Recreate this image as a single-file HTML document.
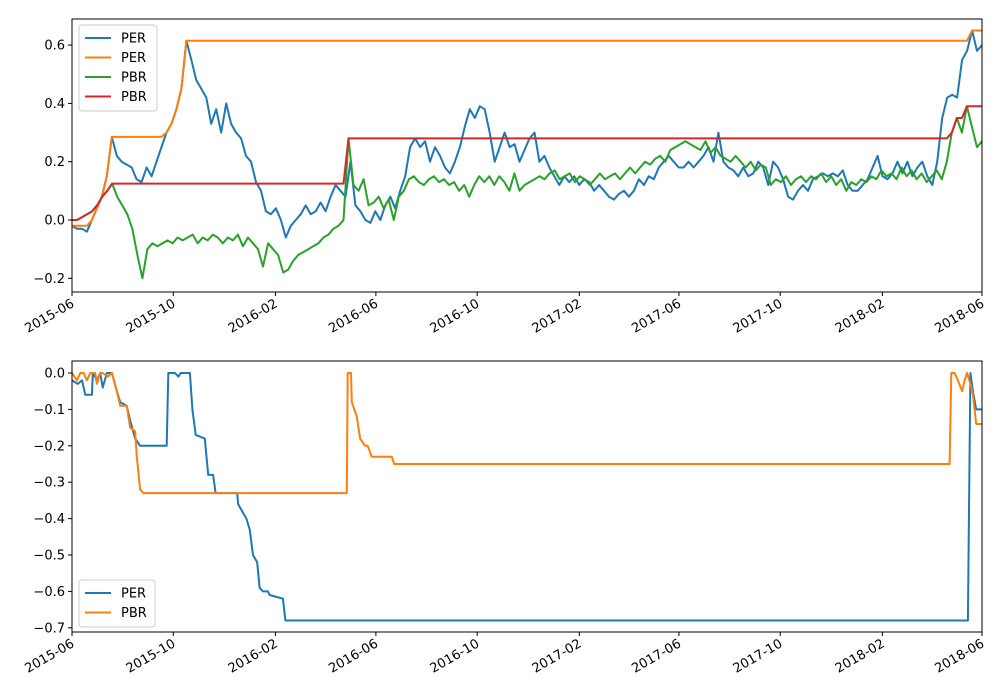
<!DOCTYPE html>
<html><head><meta charset="utf-8"><style>
body{margin:0;background:#fff;}
svg{display:block;font-family:"DejaVu Sans","Liberation Sans",sans-serif;}
</style></head><body>
<svg id="c" width="1000" height="700" viewBox="0 0 1000 700"></svg>
<script>
// ---- data ----
const startDate = "2015-06-01";
const totalDays = 1096;
const tickLabels = ["2015-06","2015-10","2016-02","2016-06","2016-10","2017-02","2017-06","2017-10","2018-02","2018-06"];
const tickDays = [0,122,245,366,488,611,731,853,976,1096];
const topYTicks = [-0.2,0.0,0.2,0.4,0.6];
const botYTicks = [-0.7,-0.6,-0.5,-0.4,-0.3,-0.2,-0.1,0.0];
const perValues = [-0.02,-0.03,-0.03,-0.04,0.0,0.04,0.08,0.15,0.285,0.22,0.2,0.19,0.18,0.14,0.13,0.18,0.15,0.2,0.25,0.3,0.33,0.38,0.45,0.615,0.55,0.48,0.45,0.42,0.33,0.38,0.3,0.4,0.33,0.3,0.28,0.22,0.2,0.13,0.1,0.03,0.02,0.04,0.0,-0.06,-0.02,0.0,0.02,0.05,0.02,0.03,0.06,0.03,0.08,0.12,0.1,0.08,
0.2,0.05,0.03,0.0,-0.01,0.03,0.0,0.05,0.08,0.04,0.1,0.15,0.25,0.28,0.25,0.27,0.2,0.25,0.22,0.18,0.16,0.2,0.25,0.32,0.38,0.35,0.39,0.38,0.3,0.2,0.25,0.3,0.25,0.26,0.2,0.24,0.28,0.3,0.2,0.22,0.18,0.15,0.12,0.15,0.13,0.15,0.12,0.14,0.13,0.1,0.12,0.1,0.08,0.07,0.09,0.1,0.08,0.1,0.14,0.12,0.15,0.14,0.18,0.2,0.22,0.2,0.18,0.18,0.2,0.18,0.2,0.22,0.25,0.2,0.3,0.2,0.18,0.17,0.15,0.18,0.15,0.16,0.2,0.18,0.12,0.2,0.18,0.14,0.08,0.07,0.1,0.12,0.1,0.14,0.15,0.16,0.15,0.16,0.15,0.17,0.12,0.1,0.1,0.12,0.14,0.18,0.22,0.15,0.14,0.16,0.2,0.16,0.2,0.15,0.18,0.2,0.15,0.12,0.2,0.35,0.42,0.43,0.42,0.55,0.58,0.65,0.58,0.6];
const pbrValues = [0.0,0.0,0.01,0.02,0.03,0.05,0.08,0.1,0.125,0.08,0.05,0.02,-0.03,-0.12,-0.2,-0.1,-0.08,-0.09,-0.08,-0.07,-0.08,-0.06,-0.07,-0.06,-0.05,-0.08,-0.06,-0.07,-0.05,-0.06,-0.08,-0.06,-0.07,-0.05,-0.09,-0.06,-0.08,-0.1,-0.16,-0.08,-0.1,-0.12,-0.18,-0.17,-0.14,-0.12,-0.11,-0.1,-0.09,-0.08,-0.06,-0.05,-0.03,-0.02,0.0,0.28,0.12,0.1,0.14,0.05,0.06,0.08,0.04,0.07,0.0,0.08,0.1,0.14,0.15,0.13,0.12,0.14,0.15,0.13,0.14,0.12,0.13,0.1,0.12,0.08,0.12,0.15,0.13,0.15,0.12,0.15,0.13,0.1,0.16,0.1,0.12,0.13,0.14,0.15,0.14,0.16,0.17,0.14,0.15,0.16,0.13,0.15,0.14,0.12,0.14,0.16,0.14,0.15,0.16,0.14,0.16,0.18,0.16,0.18,0.2,0.19,0.21,0.22,0.2,0.24,0.25,0.26,0.27,0.26,0.25,0.24,0.27,0.23,0.25,0.22,0.21,0.2,0.22,0.2,0.18,0.2,0.17,0.19,0.18,0.12,0.14,0.13,0.15,0.12,0.14,0.15,0.13,0.15,0.14,0.16,0.13,0.15,0.12,0.14,0.1,0.13,0.12,0.14,0.13,0.15,0.14,0.17,0.15,0.16,0.14,0.18,0.15,0.17,0.14,0.16,0.13,0.15,0.17,0.14,0.2,0.3,0.35,0.3,0.39,0.32,0.25,0.27];
const perDDDays = [0,7,12,16,24,25,30,34,37,42,48,54,58,66,70,76,82,114,116,124,128,131,142,145,149,160,164,170,173,199,200,205,210,214,218,223,226,230,236,238,254,257,1079,1082,1085,1089,1096];
const perDDVals = [-0.02,-0.03,-0.02,-0.06,-0.06,0.0,-0.02,0.0,-0.04,0.0,0.0,-0.05,-0.08,-0.09,-0.13,-0.18,-0.2,-0.2,0.0,0.0,-0.01,0.0,0.0,-0.1,-0.17,-0.18,-0.28,-0.28,-0.33,-0.33,-0.36,-0.38,-0.4,-0.43,-0.5,-0.52,-0.59,-0.6,-0.6,-0.61,-0.62,-0.68,-0.68,0.0,-0.05,-0.1,-0.1];
const pbrDDDays = [0,6,10,14,18,22,28,30,34,37,43,48,53,58,66,70,76,78,82,86,331,332,336,337,343,347,353,356,361,385,388,1057,1059,1063,1067,1072,1075,1078,1082,1085,1089,1096];
const pbrDDVals = [0.0,-0.02,0.0,0.0,-0.02,0.0,0.0,-0.03,0.0,0.0,-0.01,0.0,-0.04,-0.09,-0.09,-0.15,-0.16,-0.23,-0.32,-0.33,-0.33,0.0,0.0,-0.08,-0.12,-0.18,-0.2,-0.2,-0.23,-0.23,-0.25,-0.25,0.0,0.0,-0.02,-0.05,-0.02,0.0,-0.03,-0.06,-0.14,-0.14];

// ---- drawing ----
const NS="http://www.w3.org/2000/svg";
const svg=document.getElementById('c');
function mk(tag,attrs,parent){const e=document.createElementNS(NS,tag);for(const k in attrs)e.setAttribute(k,attrs[k]);(parent||svg).appendChild(e);return e;}
const X0=72,X1=982,D0=0,D1=1096;
const xs=d=>X0+(d-D0)/(D1-D0)*(X1-X0);
const topY=v=>220-v*291.5;
const botY=v=>373-v*364;
function cummax(a){let m=-Infinity;return a.map(v=>(m=Math.max(m,v)));}
function pathFrom(days,vals,y){return vals.map((v,i)=>(i?'L':'M')+xs(days[i]).toFixed(1)+','+y(v).toFixed(1)).join('');}
const stepDaysArr=n=>Array.from({length:n},(_,i)=>i*totalDays/(n-1));

function axes(top,bottom,yfn,yticks,fmt,name){
  const g=mk('g',{});
  
  
  const clip=mk('clipPath',{id:'clip-'+name},g);
  mk('rect',{x:X0,y:top,width:X1-X0,height:bottom-top},clip);
  yticks.forEach(v=>{
    const y=yfn(v);
    mk('line',{x1:X0-4,x2:X0,y1:y,y2:y,stroke:'#000','stroke-width':1},g);
    const t=mk('text',{x:X0-7,y:y+4.5,'text-anchor':'end','font-size':13},g);
    t.textContent=fmt(v);
    
    
  });
  tickDays.forEach((d,i)=>{
    const x=xs(d);
    mk('line',{x1:x,x2:x,y1:bottom,y2:bottom+4,stroke:'#000','stroke-width':1},g);
    const t=mk('text',{x:0,y:0,'text-anchor':'end','font-size':13,transform:`translate(${x+3},${bottom+14}) rotate(-30)`},g);
    t.textContent=tickLabels[i];
    
    
  });
  return g;
}
function series(g,d,color,clip,name){
  const p=mk('path',{d:d,fill:'none',stroke:color,'stroke-width':2,'stroke-linejoin':'round','clip-path':`url(#clip-${clip})`},g);
  
  
}
function legend(x,y,w,items,name){
  const g=mk('g',{});
  
  
  mk('rect',{x:x,y:y,width:w,height:items.length*19.5+8,rx:3,fill:'#fff','fill-opacity':0.8,stroke:'#ccc'},g);
  items.forEach((it,i)=>{
    const cy=y+13+i*19.5;
    mk('line',{x1:x+6,x2:x+32,y1:cy,y2:cy,stroke:it[1],'stroke-width':2},g);
    const t=mk('text',{x:x+42,y:cy+4.5,'font-size':13},g);
    t.textContent=it[0];
    
    
  });
}
const f1=v=>(v<0?'\u2212':'')+Math.abs(v).toFixed(1);

// top
const gt=axes(19,292,topY,topYTicks,f1,'top-axes');
const dPer=stepDaysArr(perValues.length), dPbr=stepDaysArr(pbrValues.length);
series(gt,pathFrom(dPer,perValues,topY),'#1f77b4','top-axes','per-line');
series(gt,pathFrom(dPer,cummax(perValues),topY),'#ff7f0e','top-axes','per-max-line');
series(gt,pathFrom(dPbr,pbrValues,topY),'#2ca02c','top-axes','pbr-line');
series(gt,pathFrom(dPbr,cummax(pbrValues),topY),'#d62728','top-axes','pbr-max-line');
mk('rect',{x:X0,y:19,width:X1-X0,height:273,fill:'none',stroke:'#000','stroke-width':1},gt);
legend(79,25,78,[['PER','#1f77b4'],['PER','#ff7f0e'],['PBR','#2ca02c'],['PBR','#d62728']],'top-legend');

// bottom
const gb=axes(361,632,botY,botYTicks,f1,'bottom-axes');
series(gb,pathFrom(perDDDays,perDDVals,botY),'#1f77b4','bottom-axes','per-drawdown-line');
series(gb,pathFrom(pbrDDDays,pbrDDVals,botY),'#ff7f0e','bottom-axes','pbr-drawdown-line');
mk('rect',{x:X0,y:361,width:X1-X0,height:271,fill:'none',stroke:'#000','stroke-width':1},gb);
legend(79,580,76,[['PER','#1f77b4'],['PBR','#ff7f0e']],'bottom-legend');
</script>
</body></html>
